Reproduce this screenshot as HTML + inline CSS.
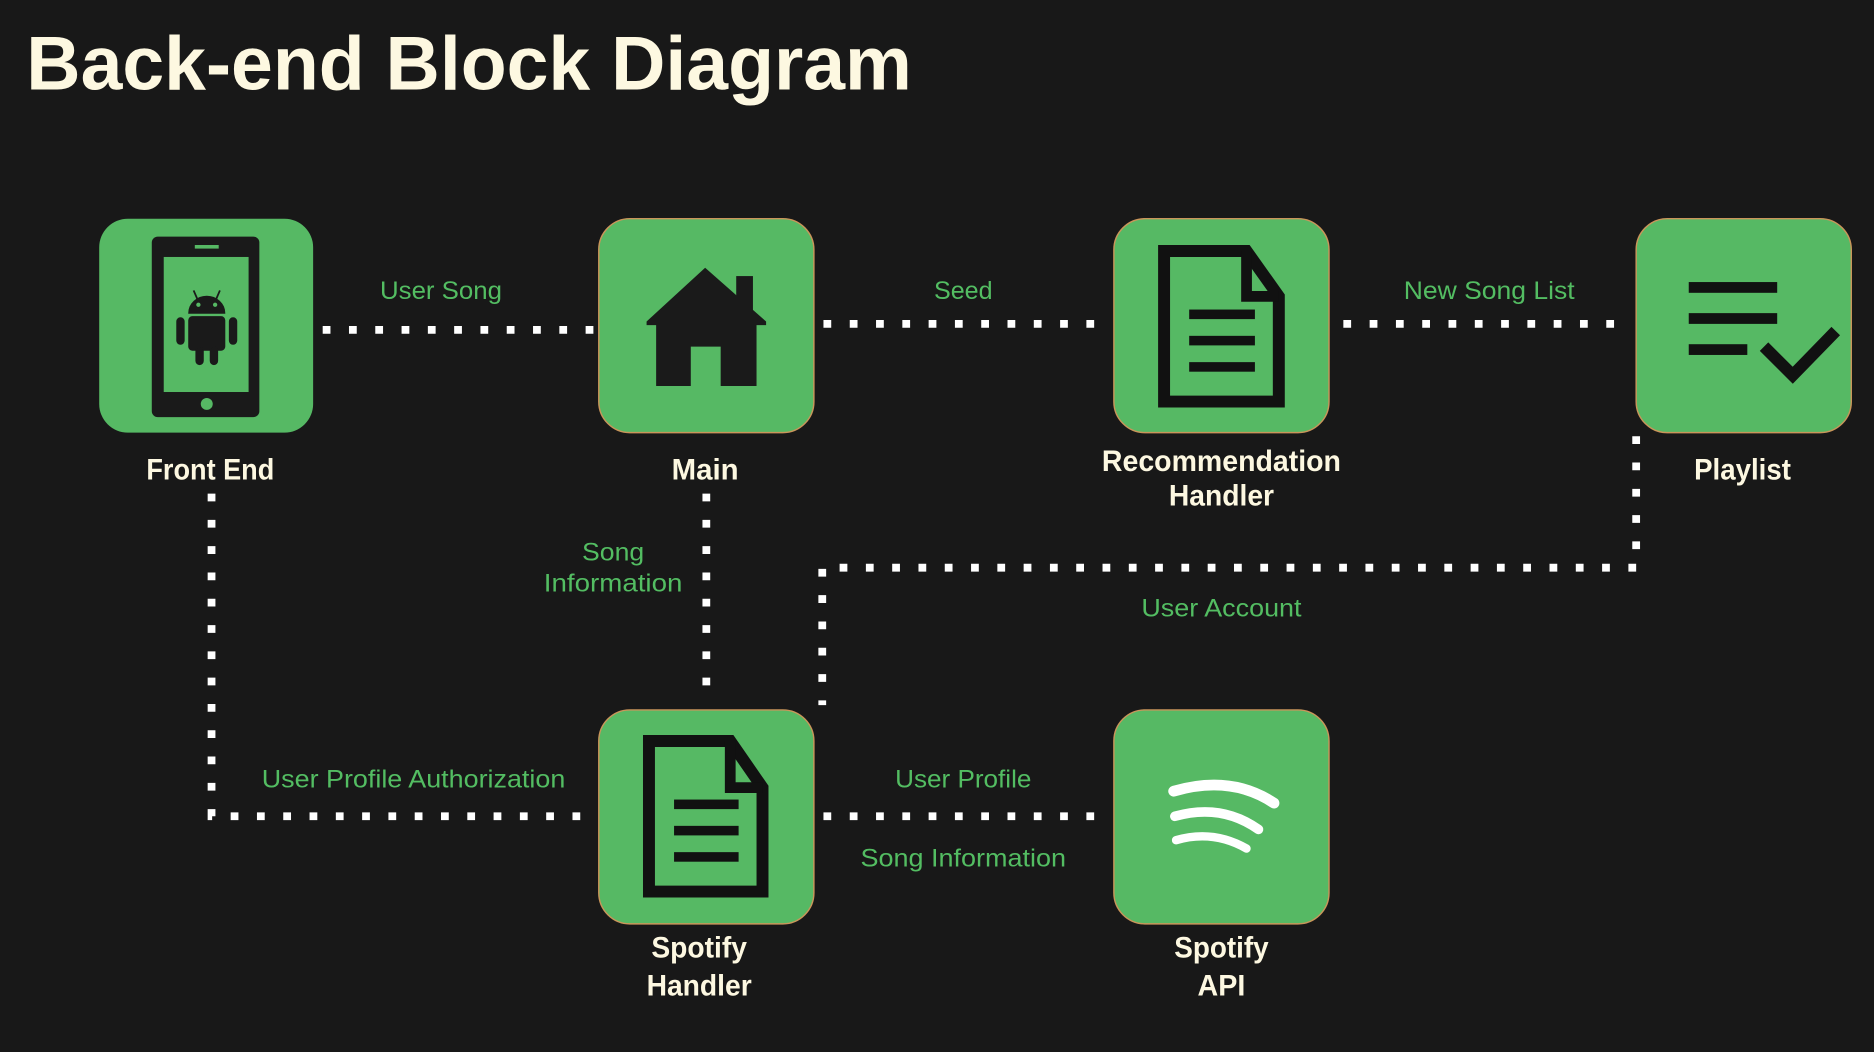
<!DOCTYPE html>
<html><head><meta charset="utf-8"><style>
html,body{margin:0;padding:0;background:#181818;}
svg{display:block;}
text{font-family:"Liberation Sans Narrow","Liberation Sans",sans-serif;font-weight:bold;}
.t{fill:#fdf8e1;font-size:25px;text-anchor:middle;}
.g{fill:#53bd62;font-size:21px;text-anchor:middle;font-weight:normal;}
.d{stroke:#fff;stroke-width:6.5;fill:none;stroke-dasharray:6.5 15.5;}
.b{fill:#56b964;stroke:#c9955a;stroke-width:1.2;}
</style></head><body>
<svg width="1874" height="1052" viewBox="0 0 1874 1052" xmlns="http://www.w3.org/2000/svg">
<rect width="1874" height="1052" fill="#181818"/>
<g transform="scale(1.19515)">
<text x="22" y="75" textLength="741" lengthAdjust="spacingAndGlyphs" style="font-family:'Liberation Sans',sans-serif;font-size:64px;fill:#fdf8e1;">Back-end Block Diagram</text>

<!-- connectors -->
<line class="d" x1="270" y1="276" x2="500" y2="276"/>
<line class="d" x1="689" y1="271" x2="922" y2="271"/>
<line class="d" x1="1124" y1="271" x2="1356" y2="271"/>
<polyline class="d" points="177,413 177,683 500,683"/>
<line class="d" x1="591" y1="413" x2="591" y2="578"/>
<polyline class="d" points="1369,365 1369,475 688,475 688,590"/>
<line class="d" x1="689" y1="683" x2="922" y2="683"/>

<!-- boxes -->
<rect class="b" x="83" y="183" width="179" height="179" rx="24" style="stroke:none"/>
<rect class="b" x="501" y="183" width="180" height="179" rx="26"/>
<rect class="b" x="932" y="183" width="180" height="179" rx="26"/>
<rect class="b" x="1369" y="183" width="180" height="179" rx="26"/>
<rect class="b" x="501" y="594" width="180" height="179" rx="26"/>
<rect class="b" x="932" y="594" width="180" height="179" rx="26"/>

<!-- phone -->
<rect x="127" y="198" width="90" height="151" rx="5" fill="#1a1a1a"/>
<rect x="137" y="215" width="71" height="113" fill="#56b964"/>
<rect x="163" y="205" width="20" height="3" fill="#56b964"/>
<circle cx="173" cy="338" r="5" fill="#56b964"/>
<g fill="#1a1a1a" stroke="#1a1a1a">
<path d="M158,262 A15,14 0 0 1 188,262 Z"/>
<line x1="162" y1="243" x2="165" y2="250" stroke-width="1.5"/>
<line x1="184" y1="243" x2="181" y2="250" stroke-width="1.5"/>
<rect x="158" y="265" width="30" height="28" rx="3"/>
<rect x="148" y="266" width="6" height="22" rx="3"/>
<rect x="192" y="266" width="6" height="22" rx="3"/>
<rect x="164" y="290" width="6" height="15" rx="3"/>
<rect x="176" y="290" width="6" height="15" rx="3"/>
</g>
<circle cx="166" cy="255" r="1.8" fill="#56b964"/><circle cx="180" cy="255" r="1.8" fill="#56b964"/>

<!-- house -->
<path d="M590,224 L641,269 L641,272 L633,272 L633,323 L603,323 L603,290 L578,290 L578,323 L549,323 L549,272 L541,272 L541,269 Z" fill="#1a1a1a"/>
<rect x="616" y="231" width="14" height="30" fill="#1a1a1a"/>

<!-- doc 1 -->
<path d="M974,210 L1043,210 L1070,248 L1070,336 L974,336 Z" fill="none" stroke="#111" stroke-width="10"/>
<path d="M1043,210 L1043,248 L1070,248" fill="none" stroke="#111" stroke-width="9"/>
<rect x="995" y="259" width="55" height="8" fill="#111"/>
<rect x="995" y="281" width="55" height="8" fill="#111"/>
<rect x="995" y="303" width="55" height="8" fill="#111"/>
<!-- doc 2 -->
<path d="M543,620 L611,620 L638,659 L638,746 L543,746 Z" fill="none" stroke="#111" stroke-width="10"/>
<path d="M611,620 L611,659 L638,659" fill="none" stroke="#111" stroke-width="9"/>
<rect x="564" y="669" width="54" height="8" fill="#111"/>
<rect x="564" y="691" width="54" height="8" fill="#111"/>
<rect x="564" y="713" width="54" height="8" fill="#111"/>

<!-- playlist -->
<rect x="1413" y="236" width="74" height="9" fill="#111"/>
<rect x="1413" y="262" width="74" height="9" fill="#111"/>
<rect x="1413" y="288" width="49" height="9" fill="#111"/>
<polyline points="1476,290 1500,314 1536,277" fill="none" stroke="#111" stroke-width="10"/>

<!-- spotify -->
<g fill="none" stroke="#fff" stroke-linecap="round">
<path d="M982,662 Q1030,648 1066,672" stroke-width="9"/>
<path d="M983,683 Q1022,672 1053,694" stroke-width="8"/>
<path d="M984,703 Q1015,694 1043,710" stroke-width="7"/>
</g>

<!-- labels -->
<text class="t" x="176" y="401" textLength="107" lengthAdjust="spacingAndGlyphs">Front End</text>
<text class="t" x="590" y="401" textLength="56" lengthAdjust="spacingAndGlyphs">Main</text>
<text class="t" x="1022" y="394" textLength="200" lengthAdjust="spacingAndGlyphs">Recommendation</text>
<text class="t" x="1022" y="423" textLength="88" lengthAdjust="spacingAndGlyphs">Handler</text>
<text class="t" x="1458" y="401" textLength="81" lengthAdjust="spacingAndGlyphs">Playlist</text>
<text class="t" x="585" y="801" textLength="80" lengthAdjust="spacingAndGlyphs">Spotify</text>
<text class="t" x="585" y="833" textLength="88" lengthAdjust="spacingAndGlyphs">Handler</text>
<text class="t" x="1022" y="801" textLength="79" lengthAdjust="spacingAndGlyphs">Spotify</text>
<text class="t" x="1022" y="833" textLength="40" lengthAdjust="spacingAndGlyphs">API</text>

<text class="g" x="369" y="250" textLength="102" lengthAdjust="spacingAndGlyphs">User Song</text>
<text class="g" x="806" y="250" textLength="49" lengthAdjust="spacingAndGlyphs">Seed</text>
<text class="g" x="1246" y="250" textLength="143" lengthAdjust="spacingAndGlyphs">New Song List</text>
<text class="g" x="513" y="469" textLength="52" lengthAdjust="spacingAndGlyphs">Song</text>
<text class="g" x="513" y="495" textLength="116" lengthAdjust="spacingAndGlyphs">Information</text>
<text class="g" x="1022" y="516" textLength="134" lengthAdjust="spacingAndGlyphs">User Account</text>
<text class="g" x="346" y="659" textLength="254" lengthAdjust="spacingAndGlyphs">User Profile Authorization</text>
<text class="g" x="806" y="659" textLength="114" lengthAdjust="spacingAndGlyphs">User Profile</text>
<text class="g" x="806" y="725" textLength="172" lengthAdjust="spacingAndGlyphs">Song Information</text>
</g>
</svg>
</body></html>
